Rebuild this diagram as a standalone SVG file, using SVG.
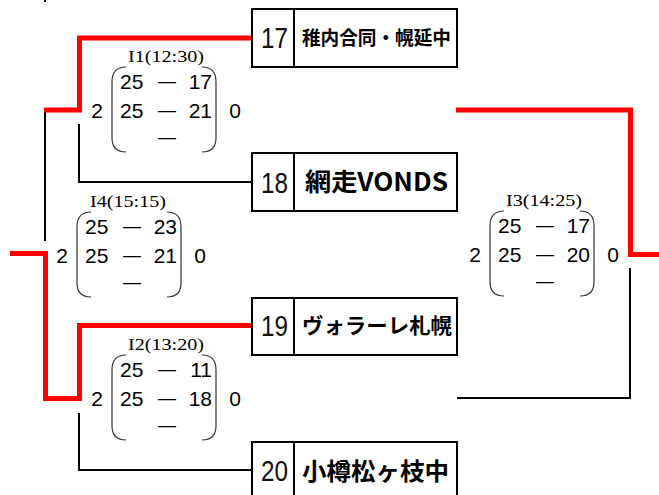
<svg xmlns="http://www.w3.org/2000/svg" width="659" height="495" viewBox="0 0 659 495">
<style>
.bg{fill:#fff}
.box{fill:#fff;stroke:#000;stroke-width:2}
.div{stroke:#000;stroke-width:2}
.num{font-family:"Liberation Sans",Arial,sans-serif;font-size:29px;fill:#111}
.team{font-family:"Noto Sans CJK JP","Noto Sans",sans-serif;font-weight:bold;fill:#000}
.lbl{font-family:"Liberation Serif","Noto Sans CJK JP",serif;font-size:16px;fill:#000;text-anchor:middle}
.sc{font-family:"Liberation Sans",Arial,sans-serif;font-size:21px;fill:#000}
.st{text-anchor:start}
.md{text-anchor:middle}
.en{text-anchor:end}
.dash{font-family:"Liberation Sans",Arial,sans-serif;font-size:18px;fill:#000;text-anchor:middle}
.par{fill:none;stroke:#333;stroke-width:1.2}
.blk{fill:none;stroke:#000;stroke-width:2}
.red{fill:none;stroke:#ff0000;stroke-width:5}
</style>
<defs>
<g id="brk">
<path class="par" d="M126,67 Q112,67 112,82 L112,138 Q112,152 126,152"/>
<path class="par" d="M202,67 Q216,67 216,82 L216,138 Q216,152 202,152"/>
</g>
</defs>
<rect class="bg" x="0" y="0" width="659" height="495"/>

<g id="connectors">
<path class="blk" d="M45,0 V2"/>
<path class="blk" d="M45,110 V241"/>
<path class="blk" d="M79,124 V182 H252"/>
<path class="blk" d="M79,413 V470 H252"/>
<path class="blk" d="M457,398 H630 V268"/>
<path class="red" d="M252,38 H79.5 V110 H44"/>
<path class="red" d="M10,253.5 H45.5 V398.5 H79.5 V325.5 H252"/>
<path class="red" d="M456,110 H630.5 V254.5 H659"/>
</g>

<g id="team17">
<rect class="box" x="252" y="9" width="205" height="58"/>
<line class="div" x1="294" y1="9" x2="294" y2="67"/>
<text class="num" x="261" y="48" textLength="27" lengthAdjust="spacingAndGlyphs">17</text>
<text class="team" x="302" y="45" font-size="19" textLength="149" lengthAdjust="spacingAndGlyphs">稚内合同・幌延中</text>
</g>
<g id="team18">
<rect class="box" x="252" y="153" width="205" height="58"/>
<line class="div" x1="294" y1="153" x2="294" y2="211"/>
<text class="num" x="261" y="193" textLength="27" lengthAdjust="spacingAndGlyphs">18</text>
<text class="team" x="305" y="191" font-size="25" textLength="143" lengthAdjust="spacingAndGlyphs">網走VONDS</text>
</g>
<g id="team19">
<rect class="box" x="252" y="298" width="205" height="57"/>
<line class="div" x1="294" y1="298" x2="294" y2="355"/>
<text class="num" x="261" y="336" textLength="27" lengthAdjust="spacingAndGlyphs">19</text>
<text class="team" x="302" y="333" font-size="21" textLength="150" lengthAdjust="spacingAndGlyphs">ヴォラーレ札幌</text>
</g>
<g id="team20">
<rect class="box" x="252" y="442" width="205" height="60"/>
<line class="div" x1="294" y1="442" x2="294" y2="502"/>
<text class="num" x="261" y="481" textLength="27" lengthAdjust="spacingAndGlyphs">20</text>
<text class="team" x="302" y="480" font-size="24" textLength="147" lengthAdjust="spacingAndGlyphs">小樽松ヶ枝中</text>
</g>

<g id="matchI1">
<text class="lbl" x="166" y="62" textLength="76" lengthAdjust="spacingAndGlyphs">I1(12:30)</text>
<use href="#brk"/>
<text class="sc md" x="97" y="118">2</text>
<text class="sc md" x="235" y="118">0</text>
<text class="sc st" x="120" y="89">25</text><text class="dash" x="167" y="87">—</text><text class="sc en" x="212" y="89">17</text>
<text class="sc st" x="120" y="118">25</text><text class="dash" x="167" y="116">—</text><text class="sc en" x="212" y="118">21</text>
<text class="dash" x="167" y="143">—</text>
</g>

<g id="matchI4" transform="translate(-35,145)">
<text class="lbl" x="163" y="62" textLength="76" lengthAdjust="spacingAndGlyphs">I4(15:15)</text>
<use href="#brk"/>
<text class="sc md" x="97" y="118">2</text>
<text class="sc md" x="235" y="118">0</text>
<text class="sc st" x="120" y="89">25</text><text class="dash" x="167" y="87">—</text><text class="sc en" x="212" y="89">23</text>
<text class="sc st" x="120" y="118">25</text><text class="dash" x="167" y="116">—</text><text class="sc en" x="212" y="118">21</text>
<text class="dash" x="167" y="143">—</text>
</g>

<g id="matchI2" transform="translate(0,288)">
<text class="lbl" x="166" y="62" textLength="76" lengthAdjust="spacingAndGlyphs">I2(13:20)</text>
<use href="#brk"/>
<text class="sc md" x="97" y="118">2</text>
<text class="sc md" x="235" y="118">0</text>
<text class="sc st" x="120" y="89">25</text><text class="dash" x="167" y="87">—</text><text class="sc en" x="212" y="89">11</text>
<text class="sc st" x="120" y="118">25</text><text class="dash" x="167" y="116">—</text><text class="sc en" x="212" y="118">18</text>
<text class="dash" x="167" y="143">—</text>
</g>

<g id="matchI3" transform="translate(378,144)">
<text class="lbl" x="166" y="62" textLength="76" lengthAdjust="spacingAndGlyphs">I3(14:25)</text>
<use href="#brk"/>
<text class="sc md" x="97" y="118">2</text>
<text class="sc md" x="235" y="118">0</text>
<text class="sc st" x="120" y="89">25</text><text class="dash" x="167" y="87">—</text><text class="sc en" x="212" y="89">17</text>
<text class="sc st" x="120" y="118">25</text><text class="dash" x="167" y="116">—</text><text class="sc en" x="212" y="118">20</text>
<text class="dash" x="167" y="143">—</text>
</g>
</svg>
